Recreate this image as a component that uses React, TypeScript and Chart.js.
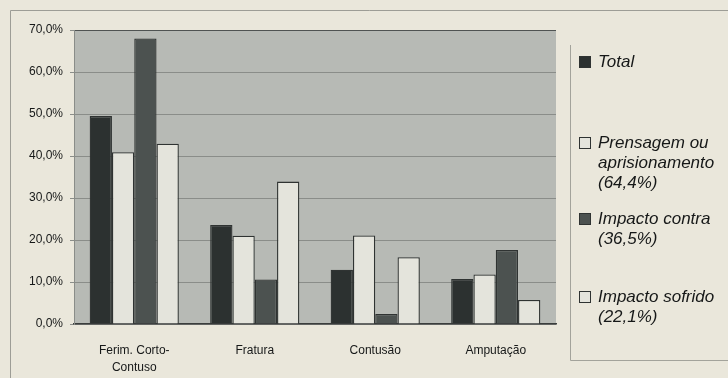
import { useEffect, useRef } from "react";
import { Chart, registerables } from "chart.js";

Chart.register(...registerables);

// Tipos de lesão (eixo das categorias)
const categories: (string | string[])[] = [["Ferim. Corto-", "Contuso"], "Fratura", "Contusão", "Amputação"];

// Percentagens por tipo de acidente
const total = [49.5, 23.6, 12.9, 10.7];
const prensagem = [40.9, 21.0, 21.1, 11.8];
const impactoContra = [68.0, 10.6, 2.4, 17.6];
const impactoSofrido = [42.9, 33.9, 15.9, 5.7];

const seriesNames = [
  "Total",
  "Prensagem ou aprisionamento (64,4%)",
  "Impacto contra (36,5%)",
  "Impacto sofrido (22,1%)",
];
const legendLines = [
  ["Total"],
  ["Prensagem ou", "aprisionamento", "(64,4%)"],
  ["Impacto contra", "(36,5%)"],
  ["Impacto sofrido", "(22,1%)"],
];

const yMin = 0;
const yMax = 70;
const yStep = 10;

const PAPER = "#eae7db";
const PLOT_BG = "#b7bab5";
const GRID = "#8a8d89";
const INK = "#161818";
const DARK = "#2c3130";
const MID = "#4c5250";
const LIGHT = "#e4e4dc";
const EDGE = "#2f3332";

const fmtPct = (v: number) => v.toFixed(1).replace(".", ",") + "%";

// Vertical anchor of each legend entry (first line)
const legendTops = [62, 143, 219, 297];

const paperPlugin = {
  id: "paper",
  beforeDraw(chart: any) {
    const { ctx, chartArea: a, width, height } = chart;
    ctx.save();
    ctx.fillStyle = PAPER;
    ctx.fillRect(0, 0, width, height);

    // outer frame
    ctx.strokeStyle = "#9d9d96";
    ctx.lineWidth = 1;
    ctx.beginPath();
    ctx.moveTo(10.5, height);
    ctx.lineTo(10.5, 10.5);
    ctx.lineTo(width, 10.5);
    ctx.stroke();

    // plot area fill
    ctx.fillStyle = PLOT_BG;
    ctx.fillRect(a.left, a.top, a.right - a.left, a.bottom - a.top);
    ctx.restore();
  },
  afterDraw(chart: any) {
    const { ctx, width } = chart;
    ctx.save();

    // legend box
    ctx.strokeStyle = "#a3a39b";
    ctx.lineWidth = 1;
    ctx.beginPath();
    ctx.moveTo(570.5, 45);
    ctx.lineTo(570.5, 360.5);
    ctx.lineTo(width, 360.5);
    ctx.stroke();

    ctx.font = "italic 17px 'Liberation Sans', Arial, sans-serif";
    ctx.textBaseline = "middle";
    ctx.textAlign = "left";
    chart.data.datasets.forEach((ds: any, i: number) => {
      const top = legendTops[i];
      ctx.fillStyle = ds.backgroundColor;
      ctx.fillRect(579, top - 6, 12, 12);
      ctx.strokeStyle = EDGE;
      ctx.lineWidth = 1;
      ctx.strokeRect(579.5, top - 5.5, 11, 11);
      ctx.fillStyle = INK;
      legendLines[i].forEach((line, j) => {
        ctx.fillText(line, 598, top + j * 20);
      });
    });
    ctx.restore();
  },
};

export default function App() {
  const canvasRef = useRef<HTMLCanvasElement | null>(null);

  useEffect(() => {
    document.body.style.margin = "0";
    document.body.style.background = PAPER;
    const canvas = canvasRef.current;
    if (!canvas) return;

    const chart = new Chart(canvas, {
      type: "bar",
      data: {
        labels: categories,
        datasets: [
          { label: seriesNames[0], data: total, backgroundColor: DARK },
          { label: seriesNames[1], data: prensagem, backgroundColor: LIGHT },
          { label: seriesNames[2], data: impactoContra, backgroundColor: MID },
          { label: seriesNames[3], data: impactoSofrido, backgroundColor: LIGHT },
        ].map((d) => ({
          ...d,
          borderColor: EDGE,
          borderWidth: 1.3,
          categoryPercentage: 0.74,
          barPercentage: 1,
        })),
      },
      options: {
        responsive: false,
        animation: false,
        layout: { padding: { left: 0, top: 30, right: 172, bottom: 0 } },
        plugins: {
          legend: { display: false },
          tooltip: { enabled: false },
        },
        scales: {
          x: {
            grid: { display: false },
            border: { display: true, color: "#3a3d3c", width: 1.5 },
            ticks: {
              color: INK,
              padding: 10,
              maxRotation: 0,
              autoSkip: false,
              font: { family: "'Liberation Sans', Arial, sans-serif", size: 12, lineHeight: 1.45 },
            },
            afterFit(s: any) {
              s.height = 54;
            },
          },
          y: {
            min: yMin,
            max: yMax,
            ticks: {
              stepSize: yStep,
              color: INK,
              padding: 7,
              font: { family: "'Liberation Sans', Arial, sans-serif", size: 12 },
              callback: (v: any) => fmtPct(Number(v)),
            },
            grid: {
              color: (c: any) => (c.tick && c.tick.value === yMax ? "#4f5352" : GRID),
              tickLength: 4,
              tickColor: GRID,
            },
            border: { display: true, color: GRID },
            afterFit(s: any) {
              s.width = 74;
            },
          },
        },
      },
      plugins: [paperPlugin],
    });

    return () => chart.destroy();
  }, []);

  return (
    <div style={{ width: 728, height: 378, background: PAPER }}>
      <canvas ref={canvasRef} width={728} height={378} style={{ display: "block" }} />
    </div>
  );
}
